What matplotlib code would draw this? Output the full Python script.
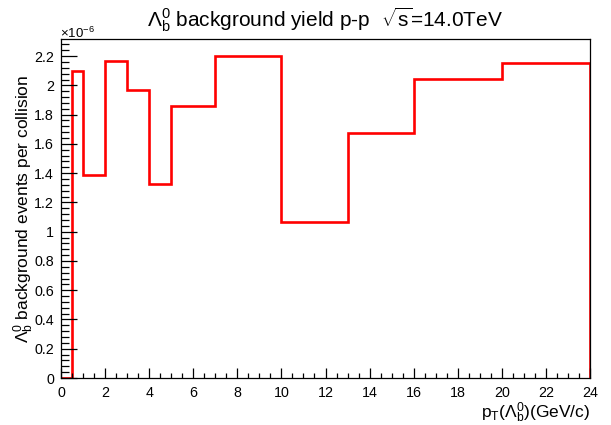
import matplotlib
matplotlib.use('Agg')
import matplotlib.pyplot as plt
from matplotlib.ticker import MultipleLocator
import numpy as np

plt.rcParams['font.family'] = ['Liberation Sans', 'DejaVu Sans']
plt.rcParams['mathtext.fontset'] = 'custom'
plt.rcParams['mathtext.rm'] = 'Liberation Sans'
plt.rcParams['mathtext.it'] = 'Liberation Sans'
plt.rcParams['mathtext.sf'] = 'Liberation Sans'

# bin edges in pT (GeV/c) and yields (x 1e-6)
pt_edges = [0, 0.5, 1, 2, 3, 4, 5, 7, 10, 13, 16, 20, 24]
yield_e6 = [0.0, 2.10, 1.39, 2.17, 1.966, 1.327, 1.857, 2.199, 1.065, 1.676, 2.041, 2.156]

W, H = 611, 425
fig = plt.figure(figsize=(W / 100, H / 100), dpi=100)
ax = fig.add_axes([61 / W, 1 - 378 / H, (590 - 61) / W, (378 - 39) / H])

ax.stairs(yield_e6, pt_edges, color='red', lw=1.9)

ax.set_xlim(0, 24)
ax.set_ylim(0, 2.317)

ax.xaxis.set_major_locator(MultipleLocator(2))
ax.xaxis.set_minor_locator(MultipleLocator(0.5))
ax.yaxis.set_major_locator(MultipleLocator(0.2))
ax.yaxis.set_minor_locator(MultipleLocator(0.04))
ax.yaxis.set_major_formatter(plt.FuncFormatter(lambda v, p: f'{v:g}'))

ax.tick_params(axis='both', which='both', direction='in', top=False, right=False,
               width=0.9, colors='black', labelsize=10.3)
ax.tick_params(axis='x', which='major', length=7.2, pad=6)
ax.tick_params(axis='x', which='minor', length=3.6)
ax.tick_params(axis='y', which='major', length=11.3, pad=5)
ax.tick_params(axis='y', which='minor', length=5.8)
for s in ax.spines.values():
    s.set_linewidth(0.9)

ax.set_xlabel(r'p$_{\mathrm{T}}$($\Lambda_{\mathrm{b}}^{0}$)(GeV/c)', fontsize=12.5)
ax.xaxis.set_label_coords(1.0, -0.066)
ax.xaxis.label.set_horizontalalignment('right')
ax.set_ylabel(r'$\Lambda_{\mathrm{b}}^{0}$ background events per collision', fontsize=12.5)
ax.yaxis.set_label_coords(-0.048, 0.5)

fig.text(60 / W, 1 - 38 / H, r'$\times$10$^{-6}$', fontsize=9.5, ha='left', va='baseline')
fig.text((61 + 590) / 2 / W, 1 - 27 / H,
         r'$\Lambda_{\mathrm{b}}^{0}$ background yield p-p  $\sqrt{\mathrm{s}}$=14.0TeV',
         fontsize=15, ha='center', va='baseline')

fig.savefig('out.png', dpi=100)
